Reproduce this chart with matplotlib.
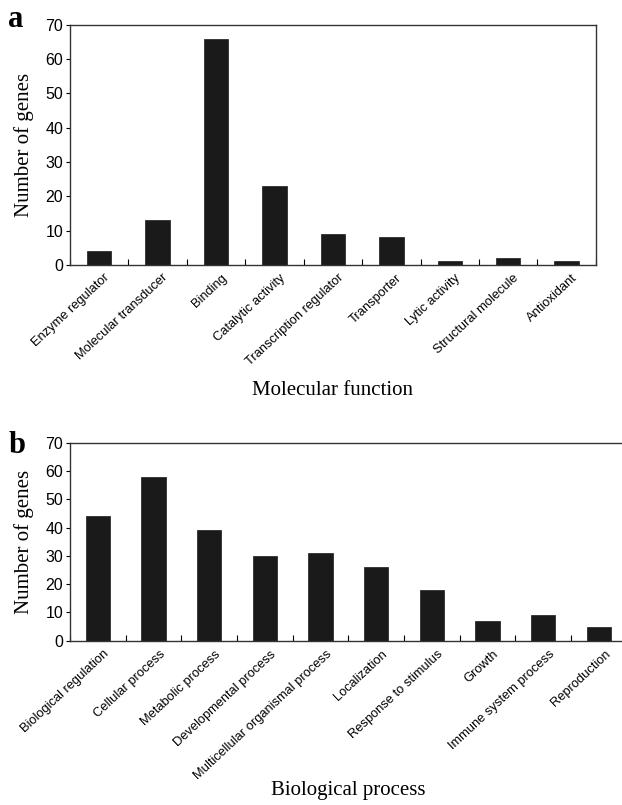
import matplotlib
matplotlib.use("Agg")
import matplotlib.pyplot as plt
import numpy as np

# panel a - molecular function
mf_labels = ["Enzyme regulator", "Molecular transducer", "Binding", "Catalytic activity",
             "Transcription regulator", "Transporter", "Lytic activity",
             "Structural molecule", "Antioxidant"]
mf_counts = [4, 13, 66, 23, 9, 8, 1, 2, 1]

# panel b - biological process
bp_labels = ["Biological regulation", "Cellular process", "Metabolic process",
             "Developmental process", "Multicellular organismal process", "Localization",
             "Response to stimulus", "Growth", "Immune system process", "Reproduction"]
bp_counts = [44, 58, 39, 30, 31, 26, 18, 7, 9, 5]

yticks = [0, 10, 20, 30, 40, 50, 60, 70]

sans = "Liberation Sans"
serif = "Liberation Serif"

fig = plt.figure(figsize=(6.22, 8.05), dpi=100)
ax1 = fig.add_axes([0.1125, 0.671, 0.8455, 0.298])
ax2 = fig.add_axes([0.1125, 0.204, 0.895, 0.246])


def draw(ax, labels, counts, xlabel, width, dx, dy):
    n = len(labels)
    x = np.arange(n)
    ax.bar(x, counts, width=width, color="#1a1a1a", edgecolor="#1a1a1a", linewidth=0.5)
    ax.set_xlim(-0.5, n - 0.5)
    ax.set_ylim(0, 70)
    ax.set_yticks(yticks)
    ax.set_yticklabels([str(v) for v in yticks], fontsize=11.5, family=sans)
    ax.tick_params(axis="y", direction="out", length=3, width=0.8, pad=2)
    # category ticks at bar boundaries, pointing inward
    ax.set_xticks(np.arange(n + 1) - 0.5)
    ax.set_xticklabels([])
    ax.tick_params(axis="x", direction="in", length=4, width=0.8)
    for i, lab in enumerate(labels):
        ax.text(i + dx, dy, lab, rotation=43, ha="right", va="top",
                rotation_mode="anchor", fontsize=9.3, family=sans)
    ax.set_ylabel("Number of genes", family=serif, fontsize=15)
    ax.set_xlabel(xlabel, family=serif, fontsize=15)
    for s in ax.spines.values():
        s.set_linewidth(1.0)
        s.set_color("#333333")


draw(ax1, mf_labels, mf_counts, "Molecular function", 0.42, 0.08, -2.0)
ax1.xaxis.set_label_coords(0.5, -0.483)
ax1.yaxis.set_label_coords(-0.068, 0.5)
draw(ax2, bp_labels, bp_counts, "Biological process", 0.44, 0.1, -2.6)
ax2.xaxis.set_label_coords(0.5, -0.707)
ax2.yaxis.set_label_coords(-0.064, 0.5)
ax2.spines["right"].set_visible(False)

# panel letters
fig.text(0.013, 0.966, "a", fontsize=22, fontweight="bold", family=serif, va="baseline")
fig.text(0.013, 0.437, "b", fontsize=22, fontweight="bold", family=serif, va="baseline")

fig.savefig("out.png", dpi=100)
